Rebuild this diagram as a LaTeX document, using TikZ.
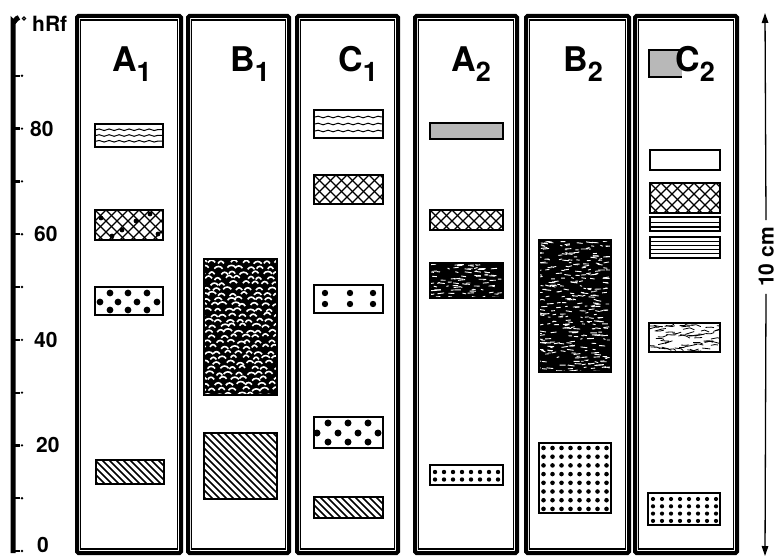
\documentclass[tikz,border=0pt]{standalone}
\usepackage{fontspec}
\setmainfont{TeX Gyre Heros}
\usetikzlibrary{arrows.meta,decorations.pathmorphing}
\newcommand\lanesub[1]{\raisebox{-10pt}{\fontsize{27}{27}\selectfont #1}}
\newcommand\bx[4]{\draw[band] (#1,#2) rectangle (#3,#4);}
\newcommand\lane[2]{\draw[frameout] ({#1+2},16) rectangle ({#2-2},553);
  \draw[framein] ({#1+5.5},20) rectangle ({#2-5.5},549);}
\newcommand\hatchband[4]{%
  \begin{scope}\clip (#1,#2) rectangle (#3,#4);
  \foreach \k in {-120,-113,...,90} \draw[line width=1.7pt] ({#1+\k},#2) -- ++(130,130);
  \end{scope}\bx{#1}{#2}{#3}{#4}}
\newcommand\xhatchband[4]{%
  \begin{scope}\clip (#1,#2) rectangle (#3,#4);
  \foreach \k in {-121,-110,...,200} {\draw[line width=1.2pt] ({#1+\k},#2) -- ++(130,130);
    \draw[line width=1.2pt] ({#1+\k},#2) -- ++(-130,130);}
  \end{scope}\bx{#1}{#2}{#3}{#4}}
\newcommand\waveband[4]{%
  \foreach \f in {0.25,0.5,0.75}
    \draw[line width=1pt,decorate,decoration={snake,amplitude=0.8pt,segment length=10pt}]
      ({#1+1},{#2+\f*(#4-#2)}) -- ({#3-1},{#2+\f*(#4-#2)});
  \bx{#1}{#2}{#3}{#4}}
\newcommand\dotgrid[7]{%
  \foreach \i in {1,...,#3} \foreach \j in {1,...,#4}
    \fill ({#1+(\i-1)*#5},{#2+(\j-1)*#6}) circle (#7);}
\newcommand\darkmottle[5]{%
  \pgfmathsetseed{#5}%
  \fill[black] (#1,#2) rectangle (#3,#4);
  \begin{scope}\clip (#1,#2) rectangle (#3,#4);
  \foreach \r in {0,...,38} \foreach \n in {1,...,9} {
    \pgfmathsetmacro\px{#1-4+rnd*(#3-#1)}
    \pgfmathsetmacro\pl{2+rnd*5}
    \pgfmathsetmacro\py{#2+1+\r*3.6+rnd*2}
    \draw[white,line width=0.9pt] (\px,\py) -- ++(\pl,{rand*1});}
  \end{scope}\bx{#1}{#2}{#3}{#4}}
\newcommand\scalemottle[5]{%
  \pgfmathsetseed{#5}%
  \fill[black] (#1,#2) rectangle (#3,#4);
  \begin{scope}\clip (#1,#2) rectangle (#3,#4);
  \foreach \r in {0,...,26} \foreach \c in {0,...,7} {
    \pgfmathsetmacro\px{#1-5+\c*10.5+mod(\r,2)*5.2+rand*2.5}
    \pgfmathsetmacro\py{#2+4+\r*5.3+rand*1.2}
    \pgfmathsetmacro\pw{5.5+rnd*3}
    \draw[white,line width=1.6pt] (\px,\py) .. controls ({\px+2},{\py-3}) and ({\px+\pw-2},{\py-3}) .. ({\px+\pw},\py);}
  \end{scope}\bx{#1}{#2}{#3}{#4}}
\newcommand\lightmottle[5]{%
  \pgfmathsetseed{#5}%
  \begin{scope}\clip (#1,#2) rectangle (#3,#4);
  \foreach \n in {1,...,55} {
    \pgfmathsetmacro\px{#1-3+rnd*(#3-#1)}
    \pgfmathsetmacro\py{#2+1+rnd*(#4-#2-2)}
    \draw[line width=0.8pt] (\px,\py) -- ++({3+rnd*4},{rand*2}) -- ++({2+rnd*3},{rand*2});}
  \end{scope}\bx{#1}{#2}{#3}{#4}}
\begin{document}
\begin{tikzpicture}[x=1pt,y=-1pt,
  band/.style={draw=black,line width=1.5pt},
  frameout/.style={draw=black,line width=4pt,rounded corners=1.5pt},
  framein/.style={draw=black,line width=1.2pt},
  axnum/.style={font=\fontsize{21}{21}\bfseries\selectfont,anchor=base west,inner sep=0pt},
  lanelabel/.style={font=\fontsize{34}{34}\bfseries\selectfont,anchor=base west,inner sep=0pt},
  scaletext/.style={font=\fontsize{21}{21}\bfseries\selectfont,rotate=90,inner sep=7pt},
  scalearrow/.style={line width=1.3pt,-{Triangle[length=10pt,width=6.5pt]}}]
\useasboundingbox (0,0) rectangle (778,556);
\fill[white] (0,0) rectangle (778,556);

% ---- axis ----
\draw[line width=5pt] (13,553) -- (13,22) to[out=-90,in=180] (19,17.5);
\draw[line width=1.2pt] (24,18.5) circle (1.6);
\foreach \v in {0,10,...,90} {
  \draw[line width=2.2pt] (15,{551-5.28*\v}) -- (20,{551-5.28*\v});
  \fill (22,{551-5.28*\v}) circle (1.3);}
\node[axnum] (hrf) at (32,32) {hRf};
\node[axnum] (n80) at (30,{551-5.28*80+7.5}) {80};
\node[axnum] (n60) at (34,{551-5.28*60+7.5}) {60};
\node[axnum] (n40) at (34,{551-5.28*40+7.5}) {40};
\node[axnum] (n20) at (36,{551-5.28*20+7.5}) {20};
\node[axnum] (n0) at (37,552) {0};

% ---- lanes ----
\lane{75}{183}
\lane{186}{291}
\lane{295}{400}
\lane{413}{519}
\lane{524}{631}
\lane{633}{739}

% ---- A1 ----
\waveband{95}{124}{163}{147}
\xhatchband{95}{210}{163}{240}
\foreach \p in {(101,218),(122,230),(150,214),(158,234),(112,236),(136,221)} \fill \p circle (2.4);
\foreach \p in {(110,293),(128,293),(147,293),(100,302),(118,302),(137,302),(157,302),(110,310),(128,310),(147,310)}
  \fill \p circle (3.4);
\bx{95}{287}{163}{315}
\hatchband{96}{460}{164}{484}

% ---- B1 ----
\scalemottle{204}{259}{277}{395}{31}
\hatchband{204}{433}{277}{499}

% ---- C1 ----
\waveband{314}{110}{383}{138}
\xhatchband{314}{175}{383}{204}
\foreach \p in {(325,293),(350,293),(373,293),(325,304),(350,304),(373,304)} \fill \p circle (3.2);
\bx{314}{285}{383}{313}
\foreach \p in {(328,423),(348,423),(368,423),(317,433),(338,433),(358,433),(378,433),(328,442),(348,442),(368,442)}
  \fill \p circle (3.5);
\bx{314}{417}{383}{448}
\hatchband{314}{497}{383}{518}

% ---- A2 ----
\fill[black!28] (430,123) rectangle (503,139);
\bx{430}{123}{503}{139}
\xhatchband{430}{210}{503}{230}
\darkmottle{430}{263}{503}{298}{57}
\dotgrid{435}{472}{8}{2}{9}{7.5}{2.2}
\bx{430}{465}{503}{485}

% ---- B2 ----
\darkmottle{539}{240}{611}{372}{91}
\dotgrid{543.5}{448}{8}{8}{9}{8.7}{2.3}
\bx{539}{443}{611}{513}

% ---- C2 ----
\fill[black!28] (649,50) rectangle (682,77);
\draw[band] (682,50) -- (649,50) -- (649,77) -- (682,77);
\bx{650}{150}{720}{170}
\xhatchband{650}{183}{720}{213}
\draw[line width=0.9pt] (651,222) -- (719,222);
\draw[line width=1.2pt] (651,227) -- (719,227);
\bx{650}{217}{720}{231}
\foreach \yy in {241,245,249,253} \draw[line width=0.8pt] (651,\yy) -- (719,\yy);
\bx{650}{237}{720}{258}
\lightmottle{649}{323}{720}{352}{17}
\dotgrid{653}{499}{8}{4}{9}{7.3}{2.1}
\bx{648}{493}{720}{525}

% ---- lane labels ----
\node[lanelabel] (lA1) at (112,72) {A\lanesub{1}};
\node[lanelabel] (lB1) at (230,72) {B\lanesub{1}};
\node[lanelabel] (lC1) at (338,72) {C\lanesub{1}};
\node[lanelabel] (lA2) at (451,72) {A\lanesub{2}};
\node[lanelabel] (lB2) at (563,72) {B\lanesub{2}};
\node[lanelabel] (lC2) at (675,72) {C\lanesub{2}};

% ---- scale ----
\node[scaletext] (scl) at (766,257) {10 cm};
\coordinate (stop) at (765,13);
\coordinate (sbot) at (765,556);
\draw[scalearrow] (scl.east) -- (stop);
\draw[scalearrow] (scl.west) -- (sbot);
\end{tikzpicture}
\end{document}
